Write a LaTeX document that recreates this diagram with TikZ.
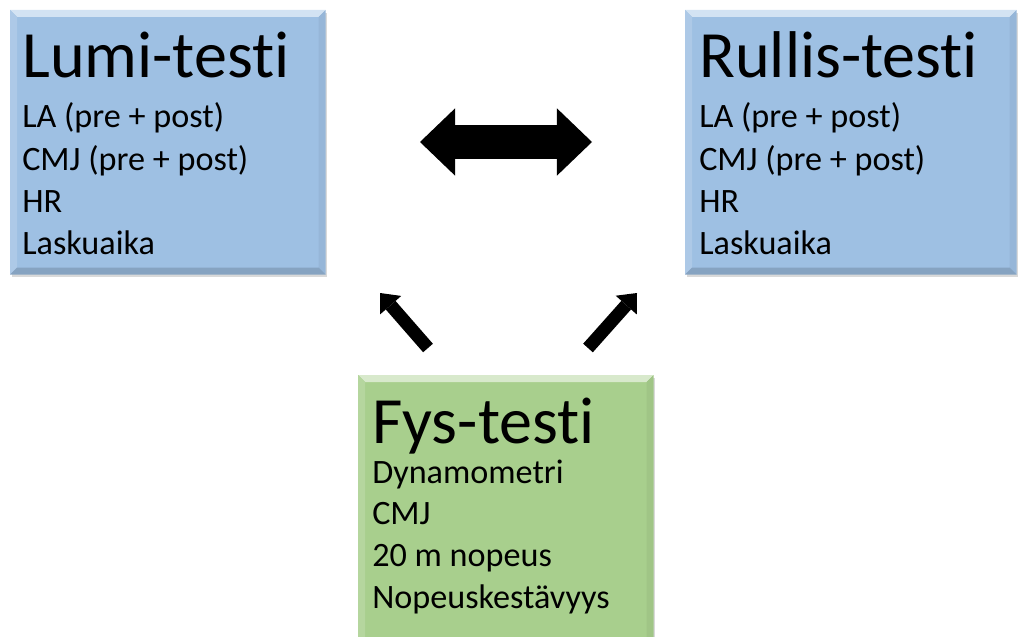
\documentclass[tikz,border=0pt]{standalone}
\usepackage{fontspec}
\setmainfont{Carlito}[Ligatures=NoCommon]
\usetikzlibrary{calc, arrows.meta, shadows}
\definecolor{boxBlue}{RGB}{158, 192, 227}
\definecolor{boxGreen}{RGB}{168, 207, 141}

\tikzset{
  box/.style={draw=none, inner sep=0pt, anchor=north west,
    drop shadow={opacity=0.3, shadow xshift=1pt, shadow yshift=-2pt}},
  title/.style={anchor=base west, inner sep=0pt, font=\fontsize{47pt}{50pt}\selectfont},
  item/.style={anchor=base west, inner sep=0pt, font=\fontsize{24.3pt}{28pt}\selectfont},
  swap/.style={line width=23.5pt, {Triangle[length=25pt, width=48pt, line width=0pt]}-{Triangle[length=25pt, width=48pt, line width=0pt]}},
  feed/.style={line width=9.2pt, -{Triangle[length=11.5pt, width=20pt, line width=0pt]}}
}

\begin{document}
\begin{tikzpicture}[x=0.025cm, y=-0.025cm]
  \useasboundingbox (0,0) rectangle (1022,637);
  % the three test boxes
  \node[box, fill=boxBlue, minimum width=7.875cm, minimum height=6.6cm] (lumi) at (10,10) {};
  \node[box, fill=boxBlue, minimum width=8.275cm, minimum height=6.6cm] (rullis) at (685,10) {};
  \node[box, fill=boxGreen, minimum width=7.375cm, minimum height=7.125cm] (fys) at (358,375) {};
  % bevelled edges
  \foreach \b/\c in {lumi/boxBlue, rullis/boxBlue, fys/boxGreen} {
    \fill[\c!45!white] (\b.north west) -- (\b.north east) -- ($(\b.north east)+(-7,7)$) -- ($(\b.north west)+(7,7)$) -- cycle;
    \fill[\c!85!white] (\b.north west) -- ($(\b.north west)+(7,7)$) -- ($(\b.south west)+(7,-7)$) -- (\b.south west) -- cycle;
    \fill[\c!95!black] (\b.north east) -- ($(\b.north east)+(-7,7)$) -- ($(\b.south east)+(-7,-7)$) -- (\b.south east) -- cycle;
    \fill[\c!85!black] (\b.south west) -- ($(\b.south west)+(7,-7)$) -- ($(\b.south east)+(-7,-7)$) -- (\b.south east) -- cycle;
  }
  % texts
  \node[title] (lumiT) at (22,78) {Lumi-testi};
  \foreach \t [count=\i] in {LA (pre + post), CMJ (pre + post), HR, Laskuaika}
    \node[item] (lumi\i) at (22,{85.7+42.3*\i}) {\t};
  \node[title] (rullisT) at (699,78) {Rullis-testi};
  \foreach \t [count=\i] in {LA (pre + post), CMJ (pre + post), HR, Laskuaika}
    \node[item] (rullis\i) at (699,{85.7+42.3*\i}) {\t};
  \node[title] (fysT) at (372,443) {Fys-testi};
  \foreach \t [count=\i] in {Dynamometri, CMJ, 20 m nopeus, Nopeuskestävyys}
    \node[item] (fys\i) at (372,{441.3+41.7*\i}) {\t};
  % arrows
  \coordinate (swapL) at (420,142);
  \coordinate (swapR) at (592,142);
  \draw[swap] (swapL) -- (swapR);
  \coordinate (fysL) at (428,348);
  \coordinate (lumiIn) at (380,293);
  \coordinate (fysR) at (588,348);
  \coordinate (rullisIn) at (637,293);
  \draw[feed] (fysL) -- (lumiIn);
  \draw[feed] (fysR) -- (rullisIn);
\end{tikzpicture}
\end{document}
